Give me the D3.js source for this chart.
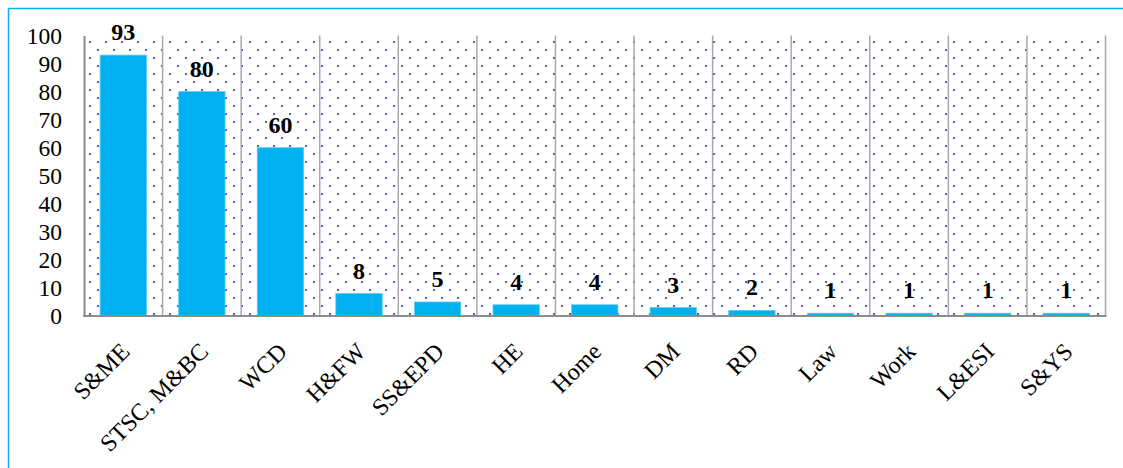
<!DOCTYPE html>
<html>
<head>
<meta charset="utf-8">
<script src="https://cdn.jsdelivr.net/npm/d3@7"></script>
<style>
  html, body { margin: 0; padding: 0; background: #ffffff; }
  svg { display: block; }
</style>
</head>
<body>
<svg id="chart" width="1123" height="468"></svg>
<script>
// Categories and counts
const categories = ["S&ME", "STSC, M&BC", "WCD", "H&FW", "SS&EPD", "HE", "Home", "DM", "RD", "Law", "Work", "L&ESI", "S&YS"];
const counts = [93, 80, 60, 8, 5, 4, 4, 3, 2, 1, 1, 1, 1];
const yTicks = [0, 10, 20, 30, 40, 50, 60, 70, 80, 90, 100];

const W = 1123, H = 468;
const plot = { left: 84, right: 1105.5, top: 35.5, bottom: 316 };
const serif = "'Liberation Serif', 'Times New Roman', serif";

const svg = d3.select("#chart");

// Dotted fill pattern for the plot background
const defs = svg.append("defs");
const pat = defs.append("pattern")
  .attr("id", "dots")
  .attr("patternUnits", "userSpaceOnUse")
  .attr("x", 0).attr("y", 0)
  .attr("width", 16).attr("height", 16);
pat.append("rect").attr("x", 1).attr("y", 1).attr("width", 2).attr("height", 2).attr("fill", "#4866B0");
pat.append("rect").attr("x", 9).attr("y", 9).attr("width", 2).attr("height", 2).attr("fill", "#4866B0");

// Frame lines (top and left edges)
svg.append("line").attr("x1", 8.5).attr("x2", W).attr("y1", 8.5).attr("y2", 8.5)
  .attr("stroke", "#00B0F0").attr("stroke-width", 1.5);
svg.append("line").attr("x1", 8.5).attr("x2", 8.5).attr("y1", 8.5).attr("y2", H)
  .attr("stroke", "#00B0F0").attr("stroke-width", 1.5);

// Scales
const cells = d3.scaleBand().domain(categories).range([plot.left, plot.right]).padding(0);
const x = d3.scaleBand().domain(categories).range([plot.left, plot.right])
  .paddingInner(0.41).paddingOuter(0.205);
const y = d3.scaleLinear().domain([0, 100]).range([plot.bottom, plot.top]);

// Plot background
svg.append("rect")
  .attr("x", plot.left).attr("y", plot.top)
  .attr("width", plot.right - plot.left).attr("height", plot.bottom - plot.top)
  .attr("fill", "url(#dots)");

// Vertical separators between categories
const seps = categories.map(c => cells(c)).concat([plot.right]);
svg.append("g").selectAll("line").data(seps.slice(1)).join("line")
  .attr("x1", d => d).attr("x2", d => d)
  .attr("y1", plot.top).attr("y2", plot.bottom)
  .attr("stroke", "#A9A9A9").attr("stroke-width", 1.5);

// Bars
svg.append("g").selectAll("rect").data(categories).join("rect")
  .attr("x", c => x(c))
  .attr("y", (c, i) => y(counts[i]))
  .attr("width", x.bandwidth())
  .attr("height", (c, i) => y(0) - y(counts[i]))
  .attr("fill", "#00B0F0")
  .attr("stroke", "#5CCBF4")
  .attr("stroke-width", 0.8);

// Value labels
svg.append("g").selectAll("text").data(categories).join("text")
  .attr("x", c => x(c) + x.bandwidth() / 2)
  .attr("y", (c, i) => y(counts[i]) - 15)
  .attr("text-anchor", "middle")
  .attr("font-family", serif)
  .attr("font-weight", "bold")
  .attr("font-size", 24)
  .attr("fill", "#000")
  .text((c, i) => counts[i]);

// Y axis
const yAxis = d3.axisLeft(y).tickValues(yTicks).tickSize(0).tickPadding(22);
const yg = svg.append("g").attr("transform", `translate(${plot.left},0)`).call(yAxis);
yg.select(".domain").attr("stroke", "#8C8C8C").attr("stroke-width", 2);
yg.selectAll("text").attr("font-family", serif).attr("font-size", 23.5).attr("fill", "#000");

// X axis baseline
svg.append("line")
  .attr("x1", plot.left - 1).attr("x2", plot.right + 1)
  .attr("y1", plot.bottom).attr("y2", plot.bottom)
  .attr("stroke", "#8C8C8C").attr("stroke-width", 2);

// Rotated category labels
svg.append("g").selectAll("text").data(categories).join("text")
  .attr("transform", c => `translate(${cells(c) + cells.bandwidth() / 2 + 2},347) rotate(-45)`)
  .attr("text-anchor", "end")
  .attr("dy", "0.35em")
  .attr("font-family", serif)
  .attr("font-size", 24)
  .attr("fill", "#000")
  .text(c => c);
</script>
</body>
</html>
